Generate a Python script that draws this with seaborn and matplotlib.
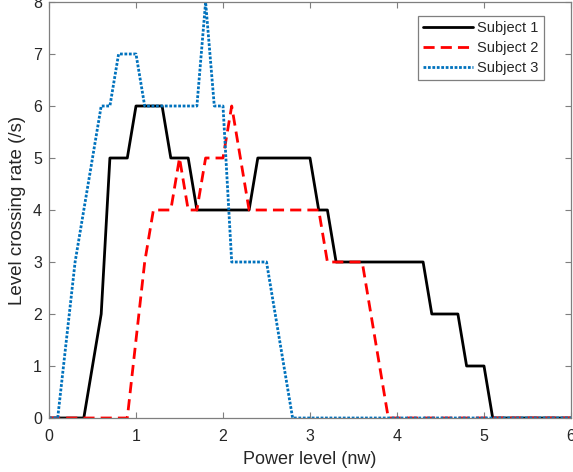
import matplotlib
matplotlib.use("Agg")
import matplotlib.pyplot as plt
import seaborn as sns
import pandas as pd

# Breakpoints of each piecewise-linear curve
x_s1 = [0, 0.4, 0.6, 0.7, 0.9, 1.0, 1.3, 1.4, 1.6, 1.7, 2.3, 2.4, 3.0, 3.1, 3.2, 3.3, 4.3, 4.4, 4.7, 4.8, 5.0, 5.1, 6.0]
y_s1 = [0, 0, 2, 5, 5, 6, 6, 5, 5, 4, 4, 5, 5, 4, 4, 3, 3, 2, 2, 1, 1, 0, 0]

x_s2 = [0, 0.9, 1.1, 1.2, 1.4, 1.5, 1.6, 1.7, 1.8, 2.0, 2.1, 2.3, 3.1, 3.2, 3.6, 3.9, 6.0]
y_s2 = [0, 0, 3, 4, 4, 5, 4, 4, 5, 5, 6, 4, 4, 3, 3, 0, 0]

x_s3 = [0, 0.1, 0.3, 0.6, 0.7, 0.8, 1.0, 1.1, 1.7, 1.8, 1.9, 2.0, 2.1, 2.5, 2.8, 6.0]
y_s3 = [0, 0, 3, 6, 6, 7, 7, 6, 6, 8, 6, 6, 3, 3, 0, 0]

series_names = ["Subject 1", "Subject 2", "Subject 3"]
x_ticks = [0, 1, 2, 3, 4, 5, 6]
y_ticks = [0, 1, 2, 3, 4, 5, 6, 7, 8]

frames = []
for name, xs, ys in zip(series_names, [x_s1, x_s2, x_s3], [y_s1, y_s2, y_s3]):
    frames.append(pd.DataFrame({"x": xs, "y": ys, "series": name}))
df = pd.concat(frames, ignore_index=True)

sns.set_style("white")
plt.rcParams["font.family"] = ["Liberation Sans", "DejaVu Sans"]

fig = plt.figure(figsize=(5.73, 4.72), dpi=100)
ax = fig.add_axes([49 / 573, (472 - 418) / 472, 522 / 573, 416 / 472])

palette = {"Subject 1": "#000000", "Subject 2": "#FF0000", "Subject 3": "#0072BD"}
dashes = {"Subject 1": "", "Subject 2": (4, 2.2), "Subject 3": (1, 0.6)}

sns.lineplot(data=df, x="x", y="y", hue="series", style="series",
             palette=palette, dashes=dashes, linewidth=2.0, ax=ax,
             sort=False, estimator=None, legend=True)

ax.set_xlim(0, 6)
ax.set_ylim(0, 8)
ax.set_xticks(x_ticks)
ax.set_yticks(y_ticks)
ax.set_xlabel("Power level (nw)", fontsize=13, color="#262626", labelpad=5)
ax.set_ylabel("Level crossing rate (/s)", fontsize=13.5, color="#262626", labelpad=5)
ax.tick_params(direction="in", length=4, width=0.8, labelcolor="#262626",
               labelsize=11.5, top=True, right=True, bottom=True, left=True)
ax.tick_params(axis="x", pad=8)
ax.tick_params(axis="y", pad=5)
for sp in ax.spines.values():
    sp.set_visible(True)
    sp.set_color("#7f7f7f")
    sp.set_linewidth(0.9)
ax.tick_params(axis="both", which="both", color="#7f7f7f")
ax.grid(False)

leg = ax.legend(loc="upper right", bbox_to_anchor=(0.948, 0.966), borderaxespad=0,
                fancybox=False, framealpha=1, edgecolor="#7f7f7f", fontsize=10.5,
                handlelength=3.4, handletextpad=0.3, borderpad=0.35, labelspacing=0.4,
                title=None)
leg.get_frame().set_linewidth(0.9)
for t in leg.get_texts():
    t.set_color("#262626")

fig.savefig("out.png", dpi=100)
